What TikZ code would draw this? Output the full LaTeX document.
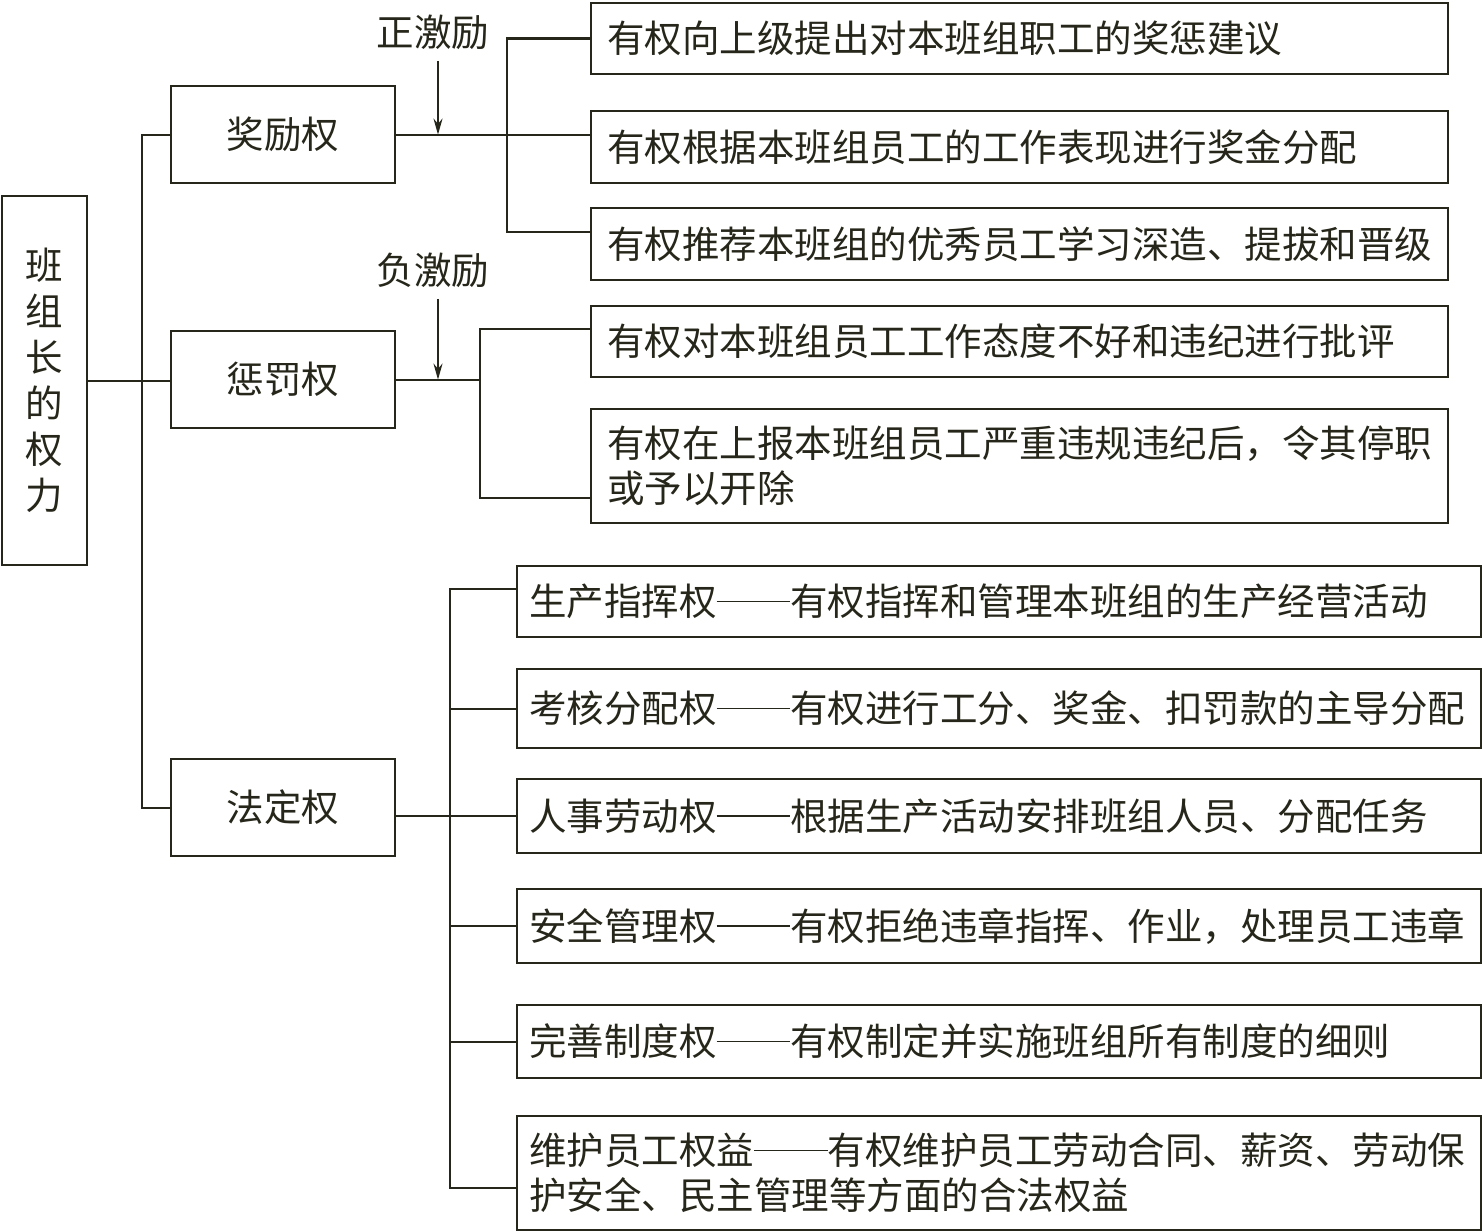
\documentclass[tikz,border=0pt]{standalone}
\usepackage{fontspec}
\setmainfont{Noto Sans CJK SC}
\usetikzlibrary{arrows.meta}
\definecolor{ink}{RGB}{38,38,26}
\newcommand{\ddash}{\rule[0.36em]{1.96em}{1.4pt}}
\begin{document}
\begin{tikzpicture}[x=1pt,y=-1pt,
  every node/.style={font=\fontsize{37.5}{45}\selectfont, text=ink},
  box/.style={draw=ink, line width=2.2pt, anchor=north west, inner ysep=0pt},
  topbox/.style={box, inner xsep=16pt, text width=825pt, minimum width=857pt, align=left},
  lawbox/.style={box, inner xsep=12pt, text width=940pt, minimum width=964pt, align=left},
  midbox/.style={box, minimum width=224pt, minimum height=97pt, inner sep=0pt},
  wire/.style={draw=ink, line width=2.2pt},
  arr/.style={wire, -{Stealth[length=16pt,width=9pt]}}
]
\useasboundingbox (0,0) rectangle (1482,1231);

% root
\node[box, minimum width=85pt, minimum height=369pt, align=center, inner sep=0pt,
      font=\fontsize{37.5}{46}\selectfont] (root) at (1,195) {班\\组\\长\\的\\权\\力};

% middle boxes
\node[midbox] (jl) at (170,85) {奖励权};
\node[midbox] (cf) at (170,330) {惩罚权};
\node[midbox] (fd) at (170,758) {法定权};

% labels
\node (zj) at (433,32) {正激励};
\node (fj) at (433,270) {负激励};

% reward / punishment boxes
\node[topbox, minimum height=71pt] (b1) at (590,2) {有权向上级提出对本班组职工的奖惩建议};
\node[topbox, minimum height=72pt] (b2) at (590,110) {有权根据本班组员工的工作表现进行奖金分配};
\node[topbox, minimum height=72pt] (b3) at (590,207) {有权推荐本班组的优秀员工学习深造、提拔和晋级};
\node[topbox, minimum height=71pt] (b4) at (590,305) {有权对本班组员工工作态度不好和违纪进行批评};
\node[topbox, minimum height=114pt] (b5) at (590,408) {有权在上报本班组员工严重违规违纪后，令其停职\\或予以开除};

% legal boxes
\node[lawbox, minimum height=71pt] (L1) at (516,565) {生产指挥权\ddash 有权指挥和管理本班组的生产经营活动};
\node[lawbox, minimum height=79pt] (L2) at (516,668) {考核分配权\ddash 有权进行工分、奖金、扣罚款的主导分配};
\node[lawbox, minimum height=74pt] (L3) at (516,778) {人事劳动权\ddash 根据生产活动安排班组人员、分配任务};
\node[lawbox, minimum height=74pt] (L4) at (516,888) {安全管理权\ddash 有权拒绝违章指挥、作业，处理员工违章};
\node[lawbox, minimum height=73pt] (L5) at (516,1004) {完善制度权\ddash 有权制定并实施班组所有制度的细则};
\node[lawbox, minimum height=114pt] (L6) at (516,1115) {维护员工权益\ddash 有权维护员工劳动合同、薪资、劳动保\\护安全、民主管理等方面的合法权益};

% root to trunk
\draw[wire] (root.east) -- (root.east -| cf.west);
\draw[wire] (jl.west) -- ++(-28,0) |- (fd.west);

% reward
\draw[wire] (jl.east) -- (jl.east -| b2.west);
\draw[wire] (b1.west) -- ++(-83,0) |- ([yshift=12pt]b3.west);
\coordinate (zs) at ([xshift=5pt,yshift=-8pt]zj.south);
\draw[arr] (zs) -- (zs |- jl.east);

% punishment
\coordinate (pb) at ([xshift=84pt]cf.east);
\draw[wire] (cf.east) -- (pb);
\draw[wire] ([yshift=12.5pt]b4.west) -| (pb) |- ([yshift=-32pt]b5.west);
\coordinate (fs) at ([xshift=5pt,yshift=-8pt]fj.south);
\draw[arr] (fs) -- (fs |- cf.east);

% legal
\coordinate (lb) at ([xshift=56pt,yshift=-8.5pt]fd.east);
\draw[wire] ([yshift=-8.5pt]fd.east) -- (lb);
\draw[wire] ([yshift=12.5pt]L1.west) -- ++(-66,0) |- ([yshift=-15pt]L6.west);
\foreach \n in {L2,L3,L4,L5} \draw[wire] (\n.west) -- ++(-66,0);
\end{tikzpicture}
\end{document}
